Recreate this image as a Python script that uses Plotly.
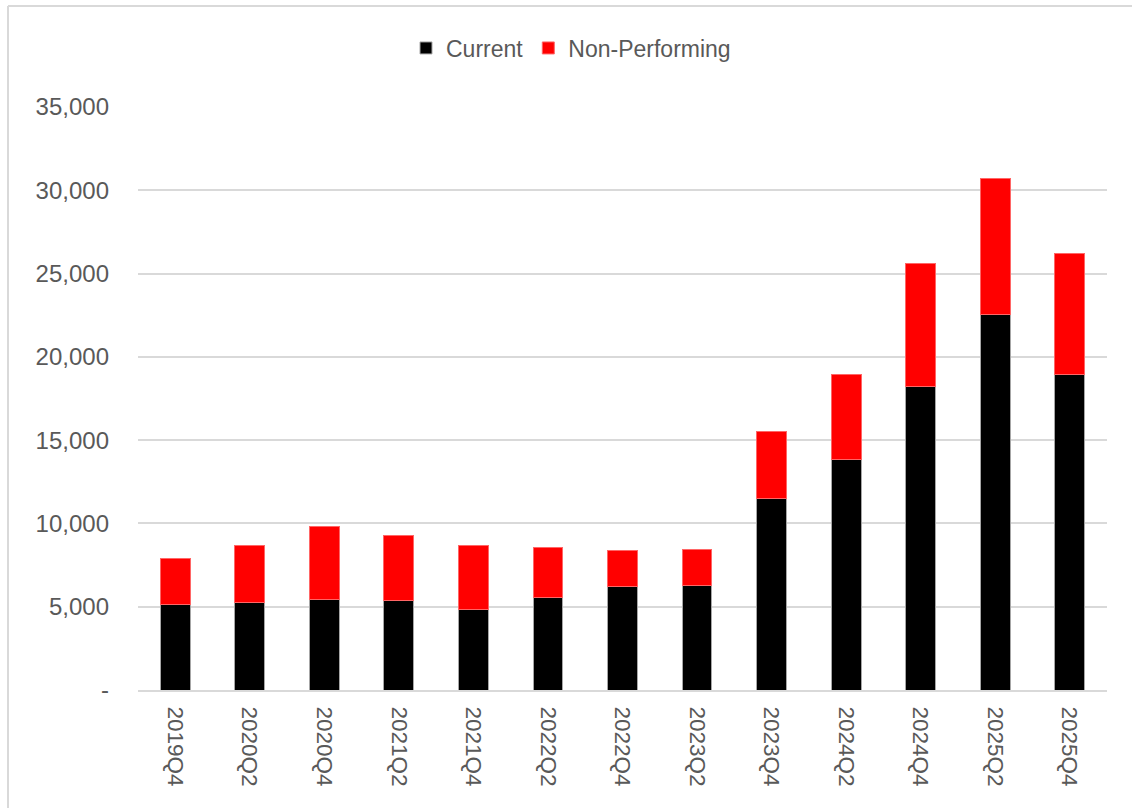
import plotly.graph_objects as go

quarters = ["2019Q4", "2020Q2", "2020Q4", "2021Q2", "2021Q4", "2022Q2", "2022Q4",
            "2023Q2", "2023Q4", "2024Q2", "2024Q4", "2025Q2", "2025Q4"]
current = [5120, 5280, 5460, 5380, 4860, 5540, 6220, 6280, 11490, 13840, 18240, 22560, 18940]
non_performing = [2760, 3380, 4340, 3900, 3800, 3040, 2160, 2180, 4050, 5100, 7370, 8170, 7270]

y_tickvals = [0, 5000, 10000, 15000, 20000, 25000, 30000, 35000]
y_ticktext = ["-", "5,000", "10,000", "15,000", "20,000", "25,000", "30,000", "35,000"]

fig = go.Figure()
fig.add_trace(go.Bar(x=quarters, y=current, name="Current",
                     marker=dict(color="#000000", line=dict(color="#a6a6a6", width=1))))
fig.add_trace(go.Bar(x=quarters, y=non_performing, name="Non-Performing",
                     marker=dict(color="#ff0000", line=dict(color="#ff6666", width=1))))

W, H = 1132, 808
L, R, T, B = 138, 25, 107, 118
fig.update_layout(
    width=W, height=H,
    barmode="stack", bargap=0.6,
    margin=dict(l=L, r=R, t=T, b=B),
    paper_bgcolor="white", plot_bgcolor="white",
    font=dict(family="Liberation Sans, Arial, sans-serif", color="#595959"),
    showlegend=True,
    legend=dict(orientation="h", x=(406 - L) / (W - L - R), xanchor="left",
                y=(H - B - 48) / (H - T - B), yanchor="middle",
                font=dict(size=23, color="#595959", family="Liberation Sans Narrow, Liberation Sans, Arial"),
                traceorder="normal", itemwidth=30, bgcolor="rgba(0,0,0,0)"),
    xaxis=dict(tickangle=90, tickfont=dict(size=22.5, color="#595959"),
               showgrid=False, showline=True, linecolor="#d9d9d9", linewidth=2,
               ticks="", ticklabelstandoff=10),
    yaxis=dict(range=[0, 35000], tickvals=y_tickvals, ticktext=y_ticktext,
               tickfont=dict(size=24, color="#595959"),
               showgrid=True, gridcolor="#d9d9d9", gridwidth=2,
               zeroline=False, showline=False, ticks="", ticklabelstandoff=28),
)

# chart-area frame (left and top border)
fig.add_shape(type="line", xref="paper", yref="paper",
              x0=(8 - L) / (W - L - R), x1=(8 - L) / (W - L - R),
              y0=(H - B - 6) / (H - T - B), y1=(H - B - H) / (H - T - B),
              line=dict(color="#d9d9d9", width=2))
fig.add_shape(type="line", xref="paper", yref="paper",
              x0=(8 - L) / (W - L - R), x1=(W + 5 - L) / (W - L - R),
              y0=(H - B - 6) / (H - T - B), y1=(H - B - 6) / (H - T - B),
              line=dict(color="#d9d9d9", width=2))

fig.write_html("out.html")
